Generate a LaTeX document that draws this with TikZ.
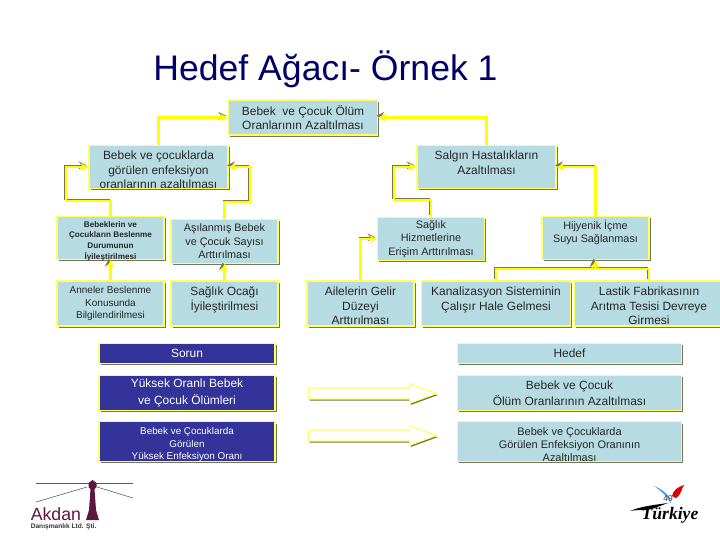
\documentclass[tikz,border=0pt]{standalone}
\usepackage{fontspec}
\setmainfont{Liberation Sans}
\newfontfamily\logofont{Liberation Serif}
\usetikzlibrary{shadows,shapes.arrows,arrows.meta}
\definecolor{boxfill}{RGB}{183,219,226}
\definecolor{navyfill}{RGB}{51,51,153}
\definecolor{edgeyellow}{RGB}{255,255,102}
\definecolor{connyellow}{RGB}{255,255,0}
\definecolor{shadowolive}{RGB}{120,120,80}
\definecolor{titleblue}{RGB}{0,0,102}
\definecolor{akdanpurple}{RGB}{92,24,64}
\tikzset{
  treebox/.style={draw=edgeyellow, line width=0.9pt, fill=boxfill, inner sep=0pt, align=center,
    font=\fontsize{8.5}{10.5}\selectfont, text=black!85,
    drop shadow={shadow xshift=1.2pt, shadow yshift=-1.2pt, fill=shadowolive, opacity=1}},
  boxtext/.style={inner sep=0pt, align=center, font=\fontsize{8.5}{10.4}\selectfont, text=black!85},
  sorunbox/.style={treebox, fill=navyfill, text=white},
  conn/.style={connyellow, line width=1.5pt, -{Stealth[length=5.5pt,width=5.5pt]},
    preaction={draw=shadowolive, transform canvas={shift={(-1.2pt,1.2pt)}}}},
  bigarrow/.style={single arrow, draw=edgeyellow, line width=0.8pt, fill=white, inner sep=0pt,
    text height=7pt, text depth=0pt, minimum width=13pt, minimum height=91pt, single arrow head extend=3pt,
    single arrow tip angle=40, text width=0pt,
    drop shadow={shadow xshift=0.8pt, shadow yshift=-1.2pt, fill=shadowolive, opacity=1}}
}
\begin{document}
\begin{tikzpicture}[x=0.025cm,y=-0.025cm]
  \useasboundingbox (0,0) rectangle (720,540);
  \clip (0,0) rectangle (720,540);

  \node[font=\fontsize{25.3}{28}\selectfont, text=titleblue] (title) at (325.5,69) {Hedef Ağacı- Örnek 1};

  % tree
  \node[treebox, minimum width=106pt, minimum height=25pt] (top) at (303,117.5) {Bebek\ \ ve Çocuk Ölüm\\Oranlarının Azaltılması};
  \node[treebox, minimum width=99pt, minimum height=31pt] (enf) at (158.5,167) {};
  \node[boxtext] (enftext) at (158.5,170) {Bebek ve çocuklarda\\görülen enfeksiyon\\oranlarının azaltılması};
  \node[treebox, minimum width=99pt, minimum height=31pt] (salgin) at (486.5,167) {};
  \node[boxtext] (salgintext) at (486.5,163) {Salgın Hastalıkların\\Azaltılması};

  \node[treebox, minimum width=76pt, minimum height=31pt] (beslen) at (110.5,238) {};
  \node[boxtext, font=\fontsize{5.8}{7.6}\selectfont\bfseries] (beslentext) at (110.5,241) {Bebeklerin ve\\Çocukların Beslenme\\Durumunun\\İyileştirilmesi};
  \node[treebox, minimum width=76pt, minimum height=31pt, font=\fontsize{7.7}{9.6}\selectfont] (asi) at (224.5,241.5) {Aşılanmış Bebek\\ve Çocuk Sayısı\\Arttırılması};
  \node[treebox, minimum width=76pt, minimum height=31pt, font=\fontsize{7.7}{9.6}\selectfont] (erisim) at (431,239) {Sağlık\\Hizmetlerine\\Erişim Arttırılması};
  \node[treebox, minimum width=76pt, minimum height=31pt] (icme) at (595.5,238) {};
  \node[boxtext, font=\fontsize{7.7}{9.6}\selectfont] (icmetext) at (595.5,232.5) {Hijyenik İçme\\Suyu Sağlanması};

  \node[treebox, minimum width=76pt, minimum height=32pt, font=\fontsize{7.1}{9}\selectfont] (anne) at (110.5,303.5) {Anneler Beslenme\\Konusunda\\Bilgilendirilmesi};
  \node[treebox, minimum width=76pt, minimum height=32pt] (ocak) at (224.5,303.5) {};
  \node[boxtext] (ocaktext) at (224.5,300) {Sağlık Ocağı\\İyileştirilmesi};
  \node[treebox, minimum width=76pt, minimum height=32pt] (gelir) at (360.5,303.5) {};
  \node[boxtext] (gelirtext) at (360.5,306) {Ailelerin Gelir\\Düzeyi\\Arttırılması};
  \node[treebox, minimum width=106pt, minimum height=32pt] (kanal) at (496,303.5) {};
  \node[boxtext] (kanaltext) at (496,300) {Kanalizasyon Sisteminin\\Çalışır Hale Gelmesi};
  \node[treebox, minimum width=106pt, minimum height=32pt] (lastik) at (649,303.5) {};
  \node[boxtext] (lastiktext) at (649,306) {Lastik Fabrikasının\\Arıtma Tesisi Devreye\\Girmesi};

  \coordinate (birles) at (595.5,269);

  \draw[conn] (enf.north) |- (top.west);
  \draw[conn] (salgin.north) |- (top.east);
  \draw[conn] (beslen.north) |- (66,201) |- (enf.west);
  \draw[conn] (asi.north) |- (250,202) |- (enf.east);
  \draw[conn] (erisim.north) |- (394,200) |- (salgin.west);
  \draw[conn] (icme.north) |- (salgin.east);
  \draw[conn] (gelir.north) |- (erisim.west);
  \draw[conn] (anne.north) -- (beslen.south);
  \draw[conn] (ocak.north) -- (asi.south);
  \draw[conn] (kanal.north) |- (birles) -- (icme.south);
  \draw[conn] (lastik.north) |- (birles) -- (icme.south);

  % sorun - hedef
  \node[sorunbox, minimum width=125pt, minimum height=14pt] (sorun) at (187,353.5) {Sorun};
  \node[sorunbox, minimum width=125pt, minimum height=25pt, font=\fontsize{8.5}{11.5}\selectfont] (yuksek) at (187,393) {Yüksek Oranlı Bebek\\ve Çocuk Ölümleri};
  \node[sorunbox, minimum width=125pt, minimum height=28pt] (enfsorun) at (187,441.5) {};
  \node[boxtext, text=white, font=\fontsize{7}{8.6}\selectfont] (enfsoruntext) at (187,444.5) {Bebek ve Çocuklarda\\Görülen\\Yüksek Enfeksiyon Oranı};
  \node[treebox, minimum width=159pt, minimum height=14pt] (hedef) at (569.5,353.5) {Hedef};
  \node[treebox, minimum width=159pt, minimum height=25pt, font=\fontsize{8.5}{11.5}\selectfont] (olum) at (569.5,393) {Bebek ve Çocuk\\Ölüm Oranlarının Azaltılması};
  \node[treebox, minimum width=159pt, minimum height=28pt] (enfhedef) at (569.5,441.5) {};
  \node[boxtext, font=\fontsize{7.8}{9.2}\selectfont] (enfhedeftext) at (569.5,445) {Bebek ve Çocuklarda\\Görülen Enfeksiyon Oranının\\Azaltılması};

  \node[bigarrow] (ok1) at (365,393.5) {};
  \node[bigarrow] (ok2) at (365,435.5) {};

  % logo sol
  \draw[gray!70!black, line width=0.4pt] (36,483) -- (133,483);
  \draw[gray!70!black, line width=0.4pt] (36,502) -- (87,487);
  \draw[gray!70!black, line width=0.4pt] (97,487) -- (133,498);
  \fill[akdanpurple] (86,520) -- (89,510) -- (90.5,489) -- (88.5,487) -- (88.5,483) -- (92.5,480) -- (96.5,483) -- (96.5,487) -- (94.5,489) -- (96,510) -- (99,520) -- cycle;
  \node[anchor=base west, inner sep=0pt, text=akdanpurple, font=\fontsize{12.6}{14}\selectfont] (akdan) at (30.5,520) {Akdan};
  \node[anchor=base west, inner sep=0pt, text=black!80, font=\fontsize{4.7}{5}\selectfont\bfseries] (danisman) at (30.5,528) {Danışmanlık Ltd. Şti.};

  % logo sag
  \fill[red!85!black] (672,496) .. controls (673,490) and (678,487) .. (684,485) .. controls (681,489) and (682,494) .. (676,498) -- cycle;
  \fill[cyan!70!blue!70] (654,486) .. controls (662,489) and (671,495) .. (671,504) .. controls (668,497) and (661,491) .. (654,486) -- cycle;
  \fill[black] (630,511) .. controls (642,506) and (654,505) .. (668,503) -- (652,509) -- (646,510) .. controls (640,510) and (635,510) .. (630,511) -- cycle;
  \node[inner sep=0pt, font=\logofont\fontsize{12.5}{14}\selectfont\itshape\bfseries, text=black] (turkiye) at (670,515) {Türkiye};
  \node[inner sep=0pt, font=\fontsize{6}{8}\selectfont, text=black!75] (sayfa) at (668,499) {49};
\end{tikzpicture}
\end{document}
